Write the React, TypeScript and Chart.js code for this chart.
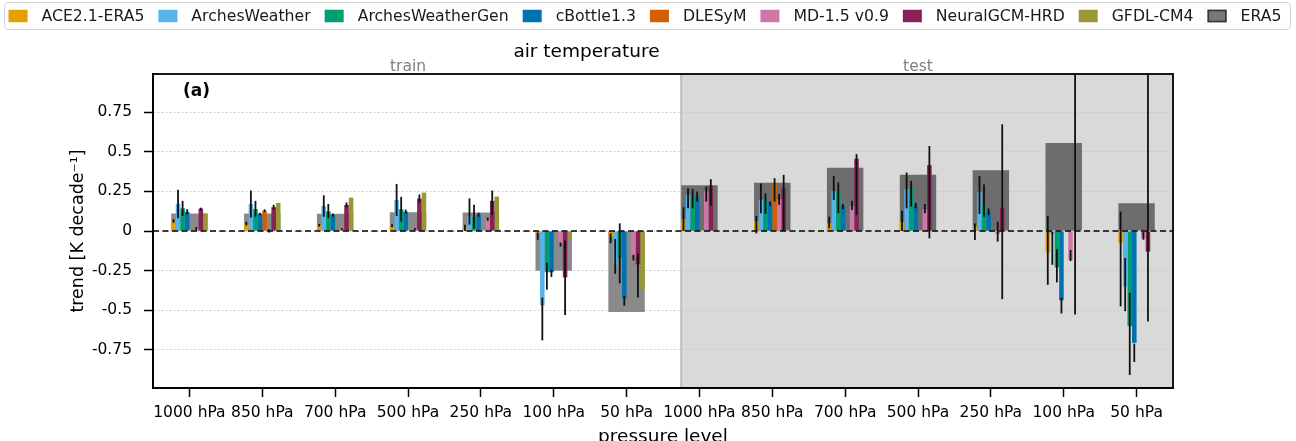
import React, { useEffect, useRef } from "react";
import { Chart, registerables } from "chart.js";

Chart.register(...registerables);

// ---------- data ----------
const categories = [
  "1000 hPa", "850 hPa", "700 hPa", "500 hPa", "250 hPa", "100 hPa", "50 hPa",
  "1000 hPa", "850 hPa", "700 hPa", "500 hPa", "250 hPa", "100 hPa", "50 hPa",
];
const firstTestIndex = 7;
const periodLabels = ["train", "test"];
const yTicks = [-0.75, -0.5, -0.25, 0, 0.25, 0.5, 0.75];
const yTickLabels = ["-0.75", "-0.5", "-0.25", "0", "0.25", "0.5", "0.75"];

const era5 = [0.11, 0.11, 0.108, 0.118, 0.116, -0.25, -0.51, 0.289, 0.304, 0.399, 0.354, 0.383, 0.555, 0.175];

const ace = [0.063, 0.044, 0.036, 0.032, 0.023, -0.015, -0.036, 0.076, 0.063, 0.049, 0.057, 0.03, -0.136, -0.077];
const aceErr = [[0.052, 0.074], [0.035, 0.058], [0.028, 0.045], [0.024, 0.042], [0.0, 0.04], [-0.056, -0.01], [-0.077, -0.015],
  [0.0, 0.15], [-0.015, 0.095], [0.017, 0.09], [0.0, 0.127], [-0.057, 0.048], [-0.339, 0.095], [-0.475, 0.122]];

const archesWeather = [0.171, 0.17, 0.158, 0.196, 0.095, -0.47, -0.218, 0.228, 0.196, 0.253, 0.264, 0.246, -0.019, -0.35];
const archesWeatherErr = [[0.08, 0.26], [0.085, 0.255], [0.09, 0.225], [0.095, 0.297], [0.04, 0.206], [-0.69, -0.42], [-0.27, -0.05],
  [0.143, 0.27], [0.112, 0.3], [0.196, 0.348], [0.143, 0.369], [0.107, 0.347], [-0.213, -0.004], [-0.506, -0.17]];

const archesWeatherGen = [0.143, 0.139, 0.124, 0.137, 0.09, -0.26, -0.17, 0.22, 0.205, 0.247, 0.27, 0.162, -0.23, -0.6];
const archesWeatherGenErr = [[0.095, 0.19], [0.09, 0.19], [0.08, 0.17], [0.06, 0.215], [0.015, 0.165], [-0.37, -0.2], [-0.33, 0.048],
  [0.143, 0.264], [0.108, 0.238], [0.112, 0.306], [0.154, 0.316], [0.09, 0.294], [-0.324, -0.115], [-0.908, -0.39]];

const cBottle = [0.12, 0.107, 0.101, 0.122, 0.103, -0.26, -0.427, 0.213, 0.175, 0.158, 0.158, 0.122, -0.437, -0.705];
const cBottleErr = [[0.105, 0.137], [0.1, 0.115], [0.09, 0.11], [0.11, 0.135], [0.09, 0.115], [-0.29, -0.245], [-0.47, -0.41],
  [0.186, 0.249], [0.158, 0.186], [0.137, 0.171], [0.143, 0.179], [0.1, 0.143], [-0.52, -0.42], [-0.826, -0.71]];

const dlesym = [null, 0.128, null, null, null, null, null, null, 0.297, null, null, null, null, null];
const dlesymErr = [null, [0.12, 0.137], null, null, null, null, null, null, [0.186, 0.333], null, null, null, null, null];

const md = [0.015, 0.003, 0.012, 0.012, 0.074, -0.077, -0.16, 0.249, 0.2, 0.158, 0.137, -0.019, -0.182, -0.046];
const mdErr = [[0.005, 0.025], [-0.01, 0.012], [0.005, 0.018], [0.005, 0.018], [0.065, 0.085], [-0.098, -0.073], [-0.186, -0.15],
  [0.186, 0.28], [0.165, 0.234], [0.133, 0.19], [0.112, 0.171], [-0.067, 0.059], [-0.19, -0.12], [-0.055, -0.005]];

const neuralGcm = [0.141, 0.15, 0.164, 0.204, 0.19, -0.293, -0.21, 0.287, 0.27, 0.456, 0.415, 0.147, 0.005, -0.13];
const neuralGcmErr = [[0.13, 0.147], [0.135, 0.165], [0.15, 0.18], [0.18, 0.23], [0.1, 0.255], [-0.53, -0.06], [-0.42, -0.14],
  [0.158, 0.327], [0.006, 0.354], [0.1, 0.485], [-0.046, 0.536], [-0.43, 0.673], [-0.527, 1.2], [-0.57, 1.2]];

const gfdl = [0.11, 0.177, 0.21, 0.242, 0.217, -0.046, -0.366, null, null, null, null, null, null, null];

const models = [
  { label: "ACE2.1-ERA5", color: "#E69F00", values: ace, err: aceErr },
  { label: "ArchesWeather", color: "#56B4E9", values: archesWeather, err: archesWeatherErr },
  { label: "ArchesWeatherGen", color: "#009E73", values: archesWeatherGen, err: archesWeatherGenErr },
  { label: "cBottle1.3", color: "#0072B2", values: cBottle, err: cBottleErr },
  { label: "DLESyM", color: "#D55E00", values: dlesym, err: dlesymErr },
  { label: "MD-1.5 v0.9", color: "#CC79A7", values: md, err: mdErr },
  { label: "NeuralGCM-HRD", color: "#882255", values: neuralGcm, err: neuralGcmErr },
  { label: "GFDL-CM4", color: "#999933", values: gfdl, err: null },
];

const FONT = "'DejaVu Sans', 'Liberation Sans', sans-serif";
const GROUP_WIDTH = 0.5; // fraction of a category used by a group

// ---------- plugins ----------
const shadingPlugin = {
  id: "testShading",
  beforeDraw(chart: any) {
    const { ctx, chartArea, scales } = chart;
    const x0 = scales.x.getPixelForValue(firstTestIndex - GROUP_WIDTH / 2);
    ctx.save();
    ctx.fillStyle = "#d9d9d9";
    ctx.fillRect(x0, chartArea.top, chartArea.right - x0, chartArea.bottom - chartArea.top);
    ctx.strokeStyle = "#bdbdbd";
    ctx.lineWidth = 2;
    ctx.beginPath();
    ctx.moveTo(x0, chartArea.top);
    ctx.lineTo(x0, chartArea.bottom);
    ctx.stroke();
    ctx.restore();
  },
};

const overlayPlugin = {
  id: "overlay",
  afterDatasetsDraw(chart: any) {
    const { ctx, chartArea, scales } = chart;
    const y = scales.y;
    ctx.save();
    ctx.beginPath();
    ctx.rect(chartArea.left, chartArea.top, chartArea.right - chartArea.left, chartArea.bottom - chartArea.top);
    ctx.clip();
    // zero line
    const y0 = y.getPixelForValue(0);
    ctx.strokeStyle = "#000";
    ctx.lineWidth = 1.6;
    ctx.setLineDash([6, 3.5]);
    ctx.beginPath();
    ctx.moveTo(chartArea.left, y0);
    ctx.lineTo(chartArea.right, y0);
    ctx.stroke();
    ctx.setLineDash([]);
    // error bars
    ctx.strokeStyle = "#111";
    ctx.lineWidth = 1.8;
    chart.data.datasets.forEach((ds: any, i: number) => {
      const err = ds.errorRanges;
      if (!err) return;
      const meta = chart.getDatasetMeta(i);
      meta.data.forEach((bar: any, j: number) => {
        const e = err[j];
        if (!e) return;
        ctx.beginPath();
        ctx.moveTo(bar.x, y.getPixelForValue(e[0]));
        ctx.lineTo(bar.x, y.getPixelForValue(e[1]));
        ctx.stroke();
      });
    });
    ctx.restore();
  },
  afterDraw(chart: any) {
    const { ctx, chartArea, scales } = chart;
    ctx.save();
    // spines
    ctx.strokeStyle = "#000";
    ctx.lineWidth = 1.8;
    ctx.strokeRect(chartArea.left, chartArea.top, chartArea.right - chartArea.left, chartArea.bottom - chartArea.top);
    // period labels
    ctx.fillStyle = "#7f7f7f";
    ctx.font = `15.5px ${FONT}`;
    ctx.textAlign = "center";
    ctx.textBaseline = "middle";
    const trainX = scales.x.getPixelForValue((firstTestIndex - 1) / 2);
    const testX = scales.x.getPixelForValue((firstTestIndex + categories.length - 1) / 2);
    ctx.fillText(periodLabels[0], trainX, chartArea.top - 7);
    ctx.fillText(periodLabels[1], testX, chartArea.top - 7);
    // panel label
    ctx.fillStyle = "#000";
    ctx.font = `bold 17px ${FONT}`;
    ctx.textAlign = "left";
    ctx.fillText("(a)", chartArea.left + 30, chartArea.top + 18);

    // legend
    const fs = 15.7;
    ctx.font = `${fs}px ${FONT}`;
    const sw = 19, sh = 12.5, gapText = 14, gapItem = 14;
    const items = chart.data.datasets.map((ds: any) => ({
      label: ds.label,
      fill: ds.legendFill,
      stroke: ds.legendStroke,
      w: ctx.measureText(ds.label).width,
    }));
    let total = 0;
    items.forEach((it: any, k: number) => {
      total += sw + gapText + it.w + (k < items.length - 1 ? gapItem : 0);
    });
    let x = 645 - total / 2;
    const cy = 16;
    ctx.fillStyle = "#fff";
    ctx.strokeStyle = "#d4d4d4";
    ctx.lineWidth = 1;
    ctx.beginPath();
    (ctx as any).roundRect(4.5, 2.5, 1286, 27, 4);
    ctx.fill();
    ctx.stroke();
    items.forEach((it: any) => {
      ctx.fillStyle = it.fill;
      ctx.fillRect(x, cy - sh / 2, sw, sh);
      if (it.stroke) {
        ctx.strokeStyle = it.stroke;
        ctx.lineWidth = 1.5;
        ctx.strokeRect(x + 0.75, cy - sh / 2 + 0.75, sw - 1.5, sh - 1.5);
      }
      ctx.fillStyle = "#1a1a1a";
      ctx.textAlign = "left";
      ctx.textBaseline = "middle";
      ctx.fillText(it.label, x + sw + gapText, cy + 0.5);
      x += sw + gapText + it.w + gapItem;
    });
    ctx.restore();
  },
};

export default function App() {
  const ref = useRef<HTMLCanvasElement | null>(null);

  useEffect(() => {
    if (!ref.current) return;
    const datasets: any[] = models.map((m) => ({
      type: "bar",
      label: m.label,
      data: m.values,
      backgroundColor: m.color,
      borderWidth: 0,
      categoryPercentage: GROUP_WIDTH,
      barPercentage: 1.0,
      order: 0,
      errorRanges: m.err,
      legendFill: m.color,
    }));
    datasets.push({
      type: "bar",
      label: "ERA5",
      data: era5,
      backgroundColor: categories.map((_, i) => (i < firstTestIndex ? "#8a8a8a" : "#6d6d6d")),
      borderWidth: 0,
      grouped: false,
      categoryPercentage: GROUP_WIDTH,
      barPercentage: 1.0,
      order: 1,
      legendFill: "#777777",
      legendStroke: "#333333",
    });

    const chart = new Chart(ref.current, {
      type: "bar",
      data: { labels: categories, datasets },
      plugins: [shadingPlugin, overlayPlugin],
      options: {
        responsive: false,
        animation: false,
        devicePixelRatio: 1,
        events: [],
        layout: { padding: { top: 30, left: 0, right: 123, bottom: 0 } },
        plugins: {
          legend: { display: false },
          tooltip: { enabled: false },
          title: {
            display: true,
            text: "air temperature",
            color: "#000",
            font: { family: FONT, size: 18.5, weight: "normal" },
            padding: { top: 10.9, bottom: 10.9 },
          },
        },
        scales: {
          x: {
            offset: true,
            grid: {
              display: true,
              drawOnChartArea: false,
              offset: false,
              tickLength: 9,
              tickColor: "#000",
              tickWidth: 1.5,
            },
            border: { display: true, color: "#000", width: 1.8 },
            ticks: {
              autoSkip: false,
              maxRotation: 0,
              minRotation: 0,
              padding: 7,
              color: "#000",
              font: { family: FONT, size: 15.5 },
            },
            title: {
              display: true,
              text: "pressure level",
              color: "#000",
              font: { family: FONT, size: 18.5 },
              padding: { top: 0, bottom: -7 },
            },
            afterFit: (s: any) => {
              s.height = 53;
            },
          },
          y: {
            min: -0.99,
            max: 0.99,
            afterBuildTicks: (s: any) => {
              s.ticks = yTicks.map((v) => ({ value: v }));
            },
            grid: {
              display: true,
              drawOnChartArea: true,
              color: "#c4c4c4",
              lineWidth: 1,
              tickLength: 9,
              tickColor: "#000",
              tickWidth: 1.5,
            },
            border: { display: true, color: "#000", width: 1.8, dash: [1.5, 2.5] },
            ticks: {
              padding: 12,
              color: "#000",
              font: { family: FONT, size: 15.5 },
              callback: (v: any) => {
                const k = yTicks.indexOf(Number(v));
                return k >= 0 ? yTickLabels[k] : "";
              },
            },
            title: {
              display: true,
              text: "trend [K decade⁻¹]",
              color: "#000",
              font: { family: FONT, size: 17.5 },
              padding: { top: 67.5, bottom: 0 },
            },
            afterFit: (s: any) => {
              s.width = 153;
            },
          },
        },
      } as any,
    });
    return () => chart.destroy();
  }, []);

  return (
    <div style={{ position: "fixed", left: 0, top: 0, width: 1296, height: 441, background: "#fff" }}>
      <canvas ref={ref} width={1296} height={441} style={{ width: 1296, height: 441, display: "block" }} />
    </div>
  );
}
